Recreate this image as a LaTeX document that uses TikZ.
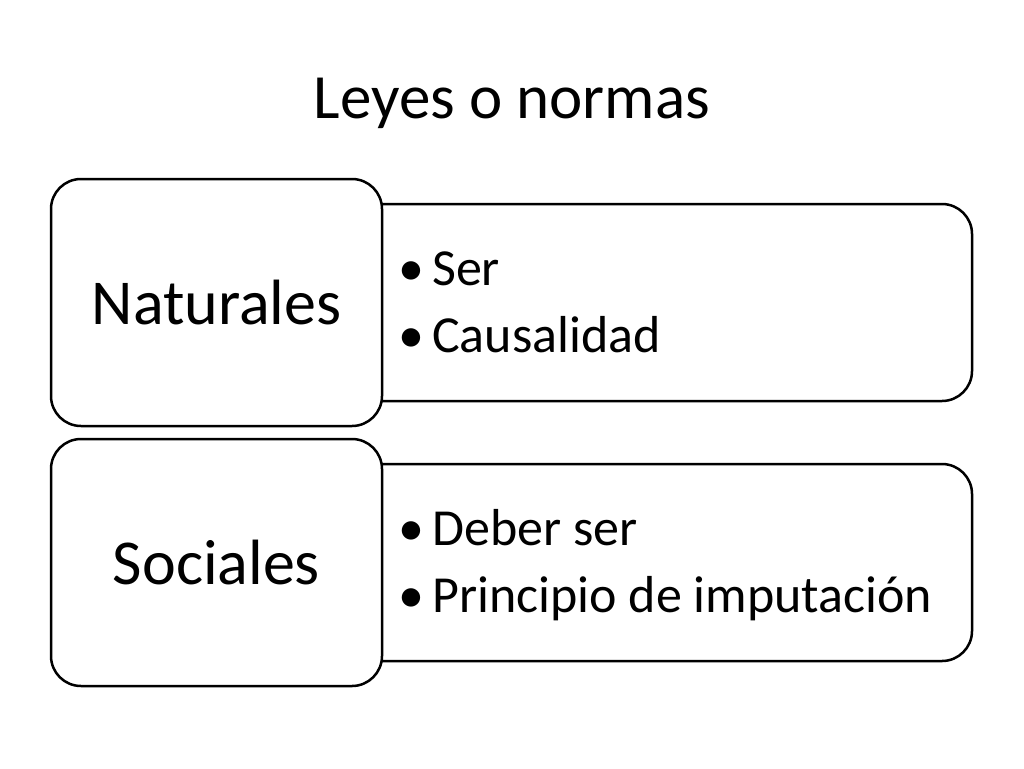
\documentclass[tikz,border=0pt]{standalone}
\usepackage{fontspec}
\setmainfont{Carlito}
\begin{document}
\begin{tikzpicture}[x=1pt,y=-1pt,
  rbox/.style={draw=black,line width=2.5pt,fill=white,rounded corners=30pt},
  ttl/.style={font=\fontsize{64}{72}\selectfont,anchor=center},
  blt/.style={font=\fontsize{52}{60}\selectfont,anchor=base west,inner sep=0pt},
  item/.style={font=\fontsize{52}{60}\selectfont,anchor=base west,inner sep=0pt}]
\useasboundingbox (0,0) rectangle (1024,768);
\node[font=\fontsize{63}{72}\selectfont,anchor=base] (title) at (512,118) {Leyes o normas};
\draw[rbox] (300,204) rectangle (972,401);
\draw[rbox] (51,179) rectangle (382,426);
\node[ttl] (nat) at (216.5,302.5) {Naturales};
\node[blt] (b1) at (398,285) {•};
\node[item] (i1) at (432,285) {Ser};
\node[blt] (b2) at (398,352) {•};
\node[item] (i2) at (432,352) {Causalidad};
\draw[rbox] (300,464) rectangle (972,661);
\draw[rbox] (51,439) rectangle (382,686);
\node[ttl] (soc) at (216.5,562.5) {Sociales};
\node[blt] (b3) at (398,545) {•};
\node[item] (i3) at (432,545) {Deber ser};
\node[blt] (b4) at (398,612) {•};
\node[item] (i4) at (432,612) {Principio de imputación};
\end{tikzpicture}
\end{document}
